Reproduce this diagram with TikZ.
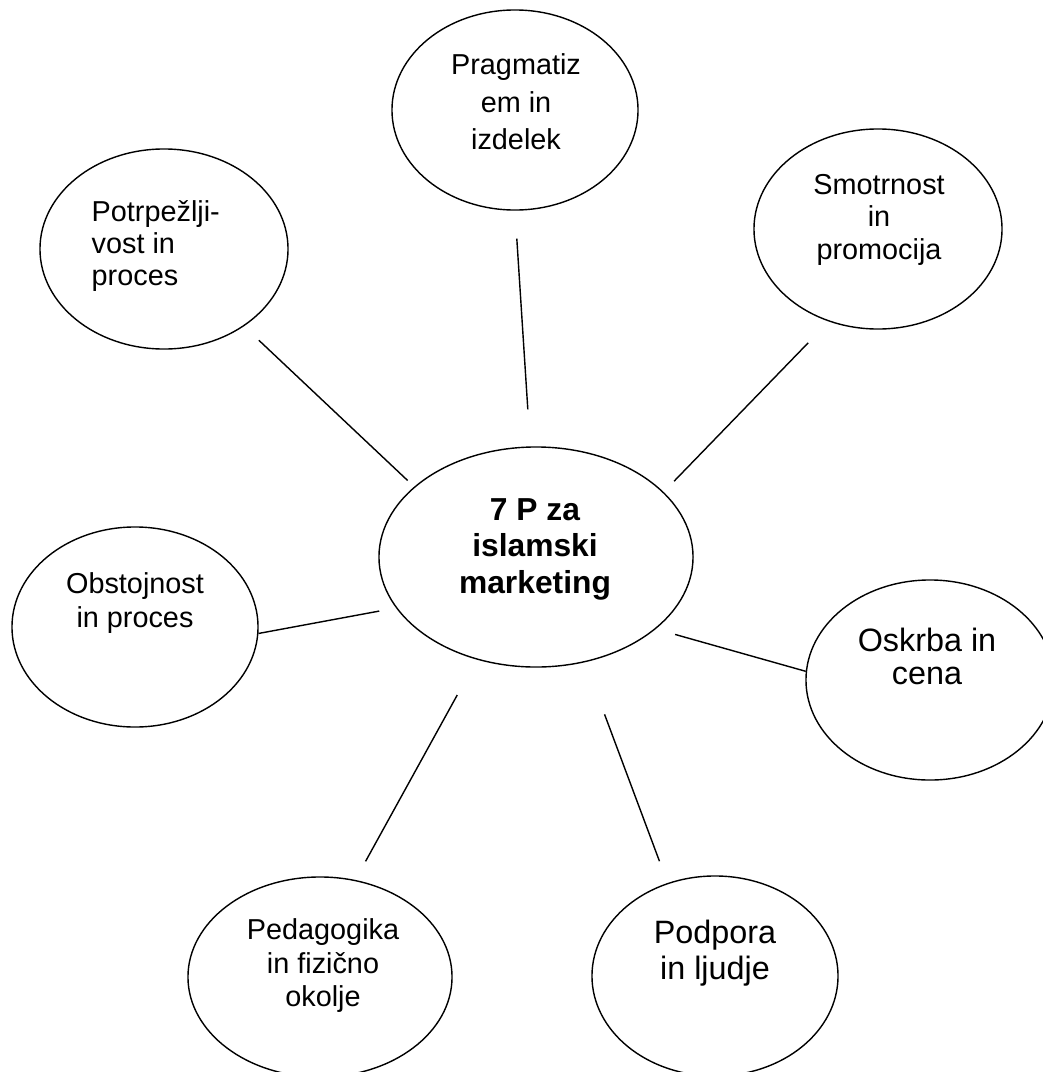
\documentclass[tikz,border=0pt]{standalone}
\usepackage{fontspec}
\setmainfont{Liberation Sans}
\usetikzlibrary{shapes.geometric}

\begin{document}
\begin{tikzpicture}[x=0.025cm,y=-0.025cm,line width=1pt,
  bubble/.style={ellipse,draw,minimum width=6.2cm,minimum height=5cm,inner sep=0pt},
  txt/.style={font=\fontsize{20.5}{#1}\selectfont,align=center,inner sep=0pt},
  bigtxt/.style={font=\fontsize{23}{#1}\selectfont,align=center,inner sep=0pt},
  hubtxt/.style={font=\fontsize{22.6}{26}\selectfont\bfseries,align=center,inner sep=0pt},
  link/.style={draw}]

\useasboundingbox (0,0) rectangle (1043,1072);

\node[bubble,minimum width=7.85cm,minimum height=5.5cm] (hub) at (536,557) {};
\node[bubble,minimum width=6.15cm] (prag) at (515,110) {};
 \node[bubble] (potr) at (164,249) {};
 \node[bubble] (smot) at (878,229) {};
\node[bubble,minimum width=6.15cm] (obst) at (135,627) {};
\node[bubble] (oskr) at (930,680) {};
	\node[bubble,minimum width=6.6cm] (peda) at (320,977) {};
	\node[bubble,minimum width=6.15cm] (podp) at (715,976) {};

% texts
\node[hubtxt] (hub-t) at (535,549) {7 P za\\islamski\\marketing};
\node[txt=26.7] (prag-t) at (516,102) {Pragmatiz\\em in\\izdelek};
\node[txt=22.8,align=left,anchor=west] (potr-t) at (91,246) {Potrpežlji-\\vost in\\proces};
\node[txt=23.1] (smot-t) at (879,219.5) {Smotrnost\\in\\promocija};
\node[txt=24.2] (obst-t) at (135,603) {Obstojnost\\in proces};
\node[bigtxt=23.5] (oskr-t) at (927,656) {Oskrba in\\cena};
\node[txt=23.8] (peda-t) at (323,966) {Pedagogika\\in fizično\\okolje};
\node[bigtxt=25.6] (podp-t) at (715,953) {Podpora\\in ljudje};

\path[link] (hub.93.5)  edge[shorten <=0.925cm,shorten >=0.7cm]  (prag.-90)
            (hub.150.1) edge[shorten <=0.225cm,shorten >=0.51cm] (potr.-44.2)
            (hub.27.3)  edge[shorten <=0.375cm,shorten >=0.74cm] (smot.-118.3)
            (hub.-160)  edge[shorten <=0.425cm]                  (obst.-3.7)
            (hub.-31.7) edge[shorten <=0.5cm]                    (oskr.176.3)
            (hub.-120.9) edge[shorten <=1.01cm,shorten >=0.53cm] (peda.70)
            (hub.-65.7) edge[shorten <=1.39cm,shorten >=0.58cm]  (podp.117.4);

\end{tikzpicture}
\end{document}
